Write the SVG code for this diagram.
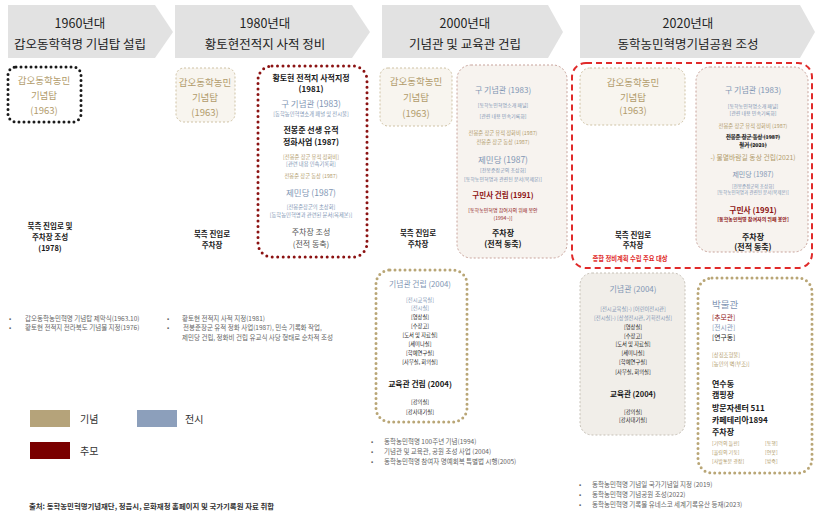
<svg xmlns="http://www.w3.org/2000/svg" width="815" height="516" viewBox="0 0 815 516">
<style>
text{font-family:"Noto Sans CJK KR","Noto Sans",sans-serif;}
.c{text-anchor:middle}
.hd{font-size:12.5px;fill:#222}
.tan{fill:#b29c6c}
.blu{fill:#8196b4}
.red{fill:#8e1414}
.bk{fill:#1a1a1a}
.gr{fill:#555}
.b{font-weight:bold}
.arrow{fill:#e2e2e2}
.boxTan{fill:#f8f5ef;stroke:#cfc2a4;stroke-width:1;stroke-dasharray:2 2}
.boxPink{fill:#f7f3ef;stroke:#c8a39b;stroke-width:1;stroke-dasharray:2 2}
.boxGray{fill:#f1eee9;stroke:#c6c0b6;stroke-width:1;stroke-dasharray:2 2}
.dotBlack{fill:none;stroke:#1a1a1a;stroke-width:3;stroke-dasharray:0 5;stroke-linecap:round}
.dotRed{fill:none;stroke:#8b1212;stroke-width:3;stroke-dasharray:0 5.5;stroke-linecap:round}
.dotTan{fill:#fff;stroke:#b9a676;stroke-width:3;stroke-dasharray:0 5;stroke-linecap:round}
.dashRed{fill:none;stroke:#e02a2a;stroke-width:2;stroke-dasharray:6 4}
.note{font-size:6.5px;fill:#666}
</style>

<g id="header">
<polygon class="arrow" points="8,5 155,5 173,32 155,58 8,58"/>
<polygon class="arrow" points="175,5 352,5 370,32 352,58 175,58"/>
<polygon class="arrow" points="382,5 548,5 563,32 548,58 382,58"/>
<polygon class="arrow" points="580,5 800,5 815,32 800,58 580,58"/>
<text class="hd c" x="80" y="28">1960년대</text>
<text class="hd c" x="80" y="49">갑오동학혁명 기념탑 설립</text>
<text class="hd c" x="265" y="28">1980년대</text>
<text class="hd c" x="265" y="49">황토현전적지 사적 정비</text>
<text class="hd c" x="465" y="28">2000년대</text>
<text class="hd c" x="465" y="49">기념관 및 교육관 건립</text>
<text class="hd c" x="688" y="28">2020년대</text>
<text class="hd c" x="688" y="49">동학농민혁명기념공원 조성</text>
</g>

<!-- 1960s -->
<g id="n1960-tower">
<rect class="dotBlack" x="8" y="67" width="73" height="55" rx="8"/>
<text class="tan c" x="44" y="84" font-size="9.5">갑오동학농민</text>
<text class="tan c" x="44" y="99" font-size="9.5">기념탑</text>
<text class="tan c" x="44" y="114" font-size="9.5">(1963)</text>
</g>
<g id="n1960-parking">
<text class="bk b c" x="50" y="229" font-size="7.5">북측 진입로 및</text>
<text class="bk b c" x="50" y="240" font-size="7.5">주차장 조성</text>
<text class="bk b c" x="50" y="251" font-size="7.5">(1978)</text>
</g>
<g id="n1960-notes">
<text class="note" x="9" y="321">•</text>
<text class="note" x="25" y="321">갑오동학농민혁명 기념탑 제막식(1963.10)</text>
<text class="note" x="9" y="330">•</text>
<text class="note" x="25" y="330">황토현 전적지 전라북도 기념물 지정(1976)</text>
</g>

<!-- 1980s -->
<g id="n1980-tower">
<rect class="boxTan" x="176" y="68" width="59" height="54" rx="8"/>
<text class="tan c" x="205" y="86" font-size="9.5">갑오동학농민</text>
<text class="tan c" x="205" y="101" font-size="9.5">기념탑</text>
<text class="tan c" x="205" y="116" font-size="9.5">(1963)</text>
</g>
<g id="n1980-site">
<rect class="dotRed" x="258" y="66" width="109" height="191" rx="14"/>
<text class="bk b c" x="311" y="81" font-size="8">황토현 전적지 사적지정</text>
<text class="bk b c" x="311" y="92" font-size="8">(1981)</text>
<text class="blu c" x="311" y="107" font-size="8.5">구 기념관 (1983)</text>
<text class="blu c" x="311" y="116" font-size="5.3">[동학농민혁명소개 패널 및 전시물]</text>
<text class="bk b c" x="311" y="133" font-size="8">전봉준 선생 유적</text>
<text class="bk b c" x="311" y="145" font-size="8">정화사업 (1987)</text>
<text class="tan c" x="311" y="159" font-size="5.3">[전봉준 장군 유적 정화비]</text>
<text class="blu c" x="311" y="166" font-size="5.3">[관련 내용 민속기록화]</text>
<text class="tan c" x="311" y="178" font-size="5.3">전봉준 장군 동상 (1987)</text>
<text class="blu c" x="311" y="196" font-size="8.5">제민당 (1987)</text>
<text class="blu c" x="311" y="209" font-size="5.3">[전봉준장군의 초상화]</text>
<text class="blu c" x="311" y="217" font-size="5.3">[동학농민혁명과 관련된 문서(복제본)]</text>
<text class="gr c" x="311" y="235" font-size="8">주차장 조성</text>
<text class="gr c" x="311" y="247" font-size="8">(전적 동축)</text>
</g>
<g id="n1980-parking">
<text class="bk b c" x="212" y="237" font-size="7.5">북측 진입로</text>
<text class="bk b c" x="212" y="248" font-size="7.5">주차장</text>
</g>
<g id="n1980-notes">
<text class="note" x="167" y="321">•</text>
<text class="note" x="182" y="321">황토현 전적지 사적 지정(1981)</text>
<text class="note" x="167" y="330">•</text>
<text class="note" x="183" y="330">전봉준장군 유적 정화 사업(1987), 민속 기록화 작업,</text>
<text class="note" x="182" y="340">제민당 건립, 정화비 건립 유교식 사당 형태로 순차적 조성</text>
</g>

<!-- 2000s -->
<g id="n2000-tower">
<rect class="boxTan" x="380" y="68" width="72" height="58" rx="8"/>
<text class="tan c" x="416" y="85" font-size="9.5">갑오동학농민</text>
<text class="tan c" x="416" y="101" font-size="9.5">기념탑</text>
<text class="tan c" x="416" y="117" font-size="9.5">(1963)</text>
</g>
<g id="n2000-site">
<rect class="boxPink" x="457" y="65" width="110" height="193" rx="14"/>
<text class="blu c" x="503" y="93" font-size="8">구 기념관 (1983)</text>
<text class="blu c" x="503" y="107" font-size="5">[동학농민혁명소개 패널]</text>
<text class="blu c" x="503" y="118" font-size="5">[관련 내용 민속기록화]</text>
<text class="tan c" x="503" y="135" font-size="5.3">전봉준 장군 유적 정화비 (1987)</text>
<text class="tan c" x="503" y="144" font-size="5.3">전봉준 장군 동상 (1987)</text>
<text class="blu c" x="503" y="163" font-size="8.5">제민당 (1987)</text>
<text class="blu c" x="503" y="172" font-size="5">[전봉준장군의 초상화]</text>
<text class="blu c" x="503" y="181" font-size="5">[동학농민혁명과 관련된 문서(복제본)]</text>
<text class="red b c" x="503" y="198" font-size="7.5">구민사 건립 (1991)</text>
<text class="red c" x="503" y="212" font-size="5">[동학농민혁명 참여자의 위패 봉안</text>
<text class="red c" x="503" y="220" font-size="5">(1994~)]</text>
<text class="bk b c" x="503" y="236" font-size="8">주차장</text>
<text class="bk b c" x="503" y="247" font-size="8">(전적 동축)</text>
</g>
<g id="n2000-parking">
<text class="bk b c" x="418" y="236" font-size="7.5">북측 진입로</text>
<text class="bk b c" x="418" y="247" font-size="7.5">주차장</text>
</g>
<g id="n2000-hall">
<rect class="dotTan" x="376" y="270" width="91" height="152" rx="14"/>
<text class="blu c" x="420" y="287" font-size="7.8">기념관 건립 (2004)</text>
<text class="blu c" x="420" y="302" font-size="5.3">[전시교육실]</text>
<text class="blu c" x="420" y="310" font-size="5.3">[전시실]</text>
<text class="bk c" x="420" y="319" font-size="5.3">[영상실]</text>
<text class="bk c" x="420" y="328" font-size="5.3">[수장고]</text>
<text class="bk c" x="420" y="337" font-size="5.3">[도서 및 자료실]</text>
<text class="bk c" x="420" y="346" font-size="5.3">[세미나실]</text>
<text class="bk c" x="420" y="355" font-size="5.3">[학예연구실]</text>
<text class="bk c" x="420" y="364" font-size="5.3">[사무실, 회의실]</text>
<text class="bk b c" x="420" y="387" font-size="7.8">교육관 건립 (2004)</text>
<text class="bk c" x="420" y="404" font-size="5.3">[강의실]</text>
<text class="bk c" x="420" y="414" font-size="5.3">[강사대기실]</text>
</g>
<g id="n2000-notes">
<text class="note" x="371" y="444">•</text>
<text class="note" x="384" y="444">동학농민혁명 100주년 기념(1994)</text>
<text class="note" x="371" y="454">•</text>
<text class="note" x="384" y="454">기념관 및 교육관, 공원 조성 사업 (2004)</text>
<text class="note" x="371" y="464">•</text>
<text class="note" x="384" y="464">동학농민혁명 참여자 명예회복 특별법 시행(2005)</text>
</g>

<!-- 2020s -->
<g id="n2020-plan">
<rect class="dashRed" x="572" y="63" width="240" height="205" rx="14"/>
<text class="b c" x="630" y="261" font-size="6.3" fill="#e02a2a">종합 정비계획 수립 주요 대상</text>
</g>
<g id="n2020-tower">
<rect class="boxTan" x="580" y="68" width="105" height="57" rx="10"/>
<text class="tan c" x="633" y="86" font-size="9.5">갑오동학농민</text>
<text class="tan c" x="633" y="101" font-size="9.5">기념탑</text>
<text class="tan c" x="633" y="114" font-size="9.5">(1963)</text>
</g>
<g id="n2020-site">
<rect class="boxPink" x="696" y="67" width="112" height="185" rx="14"/>
<text class="blu c" x="753" y="93" font-size="8">구 기념관 (1983)</text>
<text class="blu c" x="753" y="108" font-size="5">[동학농민혁명소개 패널]</text>
<text class="blu c" x="753" y="115" font-size="5">[관련 내용 민속기록화]</text>
<text class="tan c" x="753" y="128" font-size="5.3">전봉준 장군 유적 정화비 (1987)</text>
<text class="bk b c" x="753" y="139" font-size="5.3" text-decoration="line-through">전봉준 장군 동상 (1987)</text>
<text class="bk b c" x="753" y="147" font-size="5.3" text-decoration="line-through">철거 (2021)</text>
<text class="tan c" x="753" y="160" font-size="6.8">-) 불멸바람길 동상 건립(2021)</text>
<text class="blu c" x="753" y="177" font-size="7">제민당 (1987)</text>
<text class="blu c" x="753" y="188" font-size="4.6">[전봉준장군의 초상화]</text>
<text class="blu c" x="753" y="194" font-size="4.6">[동학농민혁명과 관련된 문서(복제본)]</text>
<text class="red b c" x="753" y="213" font-size="7.8">구민사 (1991)</text>
<text class="red b c" x="753" y="221" font-size="5">[동학농민혁명 참여자의 위패 봉안]</text>
<text class="bk b c" x="753" y="240" font-size="8">주차장</text>
<text class="bk b c" x="753" y="250" font-size="8">(전적 동축)</text>
</g>
<g id="n2020-parking">
<text class="bk b c" x="633" y="238" font-size="7.5">북측 진입로</text>
<text class="bk b c" x="633" y="248" font-size="7.5">주차장</text>
</g>
<g id="n2020-hall">
<rect class="boxGray" x="580" y="273" width="105" height="162" rx="12"/>
<text class="blu c" x="633" y="292" font-size="8">기념관 (2004)</text>
<text class="blu c" x="633" y="311" font-size="5.3">[전시교육실]-) [어린이전시관]</text>
<text class="blu c" x="633" y="320" font-size="5.3">[전시실]-) [상설전시관, 기획전시실]</text>
<text class="bk c" x="633" y="329" font-size="5.3">[영상실]</text>
<text class="bk c" x="633" y="338" font-size="5.3">[수장고]</text>
<text class="bk c" x="633" y="346" font-size="5.3">[도서 및 자료실]</text>
<text class="bk c" x="633" y="355" font-size="5.3">[세미나실]</text>
<text class="bk c" x="633" y="364" font-size="5.3">[학예연구실]</text>
<text class="bk c" x="633" y="374" font-size="5.3">[사무실, 회의실]</text>
<text class="bk b c" x="633" y="397" font-size="7.5">교육관 (2004)</text>
<text class="bk c" x="633" y="414" font-size="5.3">[강의실]</text>
<text class="bk c" x="633" y="422" font-size="5.3">[강사대기실]</text>
</g>
<g id="n2020-museum">
<rect class="dotTan" x="698" y="278" width="114" height="195" rx="14"/>
<text class="blu" x="712" y="308" font-size="9.5">박물관</text>
<text class="red" x="712" y="320" font-size="6.8">[추모관]</text>
<text class="blu" x="712" y="330" font-size="6.8">[전시관]</text>
<text class="bk" x="712" y="340" font-size="6.8">[연구동]</text>
<text class="tan" x="712" y="357" font-size="5.3">[상징조형물]</text>
<text class="tan" x="712" y="366" font-size="5.3">[농민의 벽(부조)]</text>
<text class="bk b" x="712" y="387" font-size="8">연수동</text>
<text class="bk b" x="712" y="398" font-size="8">캠핑장</text>
<text class="bk b" x="712" y="411" font-size="8">방문자센터 511</text>
<text class="bk b" x="712" y="423" font-size="8">카페테리아1894</text>
<text class="bk b" x="712" y="435" font-size="8">주차장</text>
<text class="tan" x="712" y="445" font-size="5">[기억의 들판]</text>
<text class="tan" x="765" y="445" font-size="5">[동행]</text>
<text class="tan" x="712" y="454" font-size="5">[울림의 기둥]</text>
<text class="tan" x="765" y="454" font-size="5">[연못]</text>
<text class="tan" x="712" y="463" font-size="5">[사발통문 광장]</text>
<text class="tan" x="765" y="463" font-size="5">[방죽]</text>
</g>
<g id="n2020-notes">
<text class="note" x="579" y="487">•</text>
<text class="note" x="592" y="487">동학농민혁명 기념일 국가기념일 지정 (2019)</text>
<text class="note" x="579" y="497">•</text>
<text class="note" x="592" y="497">동학농민혁명 기념공원 조성(2022)</text>
<text class="note" x="579" y="507">•</text>
<text class="note" x="592" y="507">동학농민혁명 기록물 유네스코 세계기록유산 등재(2023)</text>
</g>

<g id="legend">
<rect x="30" y="410" width="40" height="17" fill="#b5a37a"/>
<text x="80" y="423" font-size="10" fill="#333">기념</text>
<rect x="137" y="410" width="40" height="17" fill="#8c9fbb"/>
<text x="185" y="423" font-size="10" fill="#333">전시</text>
<rect x="30" y="442" width="40" height="17" fill="#7a0000"/>
<text x="80" y="455" font-size="10" fill="#333">추모</text>
<text x="29" y="509" font-size="7.4" font-weight="bold" fill="#333">출처: 동학농민혁명기념재단, 정읍시, 문화재청 홈페이지 및 국가기록원 자료 취합</text>
</g>
<g id="connectors"/>
</svg>
